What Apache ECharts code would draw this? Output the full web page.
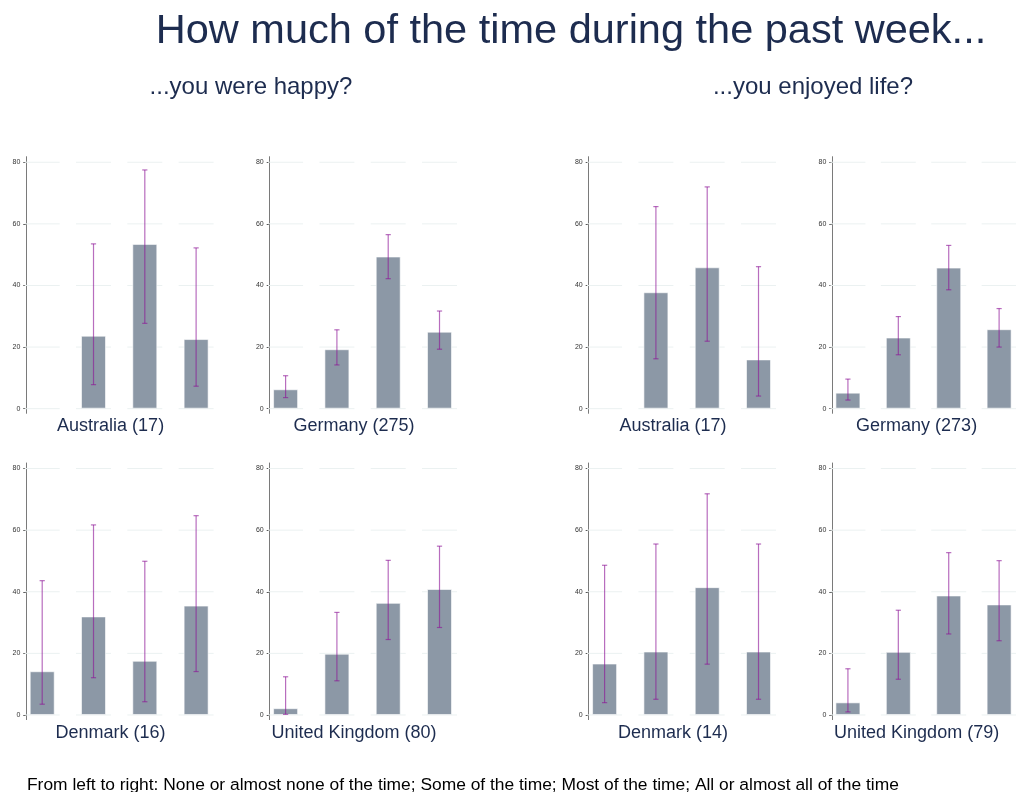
<!DOCTYPE html>
<html>
<head>
<meta charset="utf-8">
<script src="https://cdn.jsdelivr.net/npm/echarts@6/dist/echarts.min.js"></script>
<style>
html,body{margin:0;padding:0;background:#fff;}
#chart{width:1016px;height:792px;}
</style>
</head>
<body>
<div id="chart"></div>
<script>
// ---- data ----
const categories = ['None or almost none of the time', 'Some of the time', 'Most of the time', 'All or almost all of the time'];
const yTicks = [0, 20, 40, 60, 80];

const mainTitle = 'How much of the time during the past week...';
const subTitles = ['...you were happy?', '...you enjoyed life?'];
const footNote = 'From left to right: None or almost none of the time; Some of the time; Most of the time; All or almost all of the time';

const panelLabels = ['Australia (17)', 'Germany (275)', 'Australia (17)', 'Germany (273)',
                     'Denmark (16)', 'United Kingdom (80)', 'Denmark (14)', 'United Kingdom (79)'];

// happy
const happyAustraliaPct  = [null, 23.7, 53.5, 22.6];
const happyAustraliaLow  = [null, 7.8, 27.7, 7.3];
const happyAustraliaHigh = [null, 53.5, 77.5, 52.2];

const happyGermanyPct  = [6.3, 19.3, 49.4, 25.0];
const happyGermanyLow  = [3.6, 14.2, 42.2, 19.3];
const happyGermanyHigh = [10.7, 25.6, 56.5, 31.7];

const happyDenmarkPct  = [14.2, 32.0, 17.6, 35.5];
const happyDenmarkLow  = [3.5, 12.1, 4.3, 14.1];
const happyDenmarkHigh = [43.6, 61.7, 49.9, 64.7];

const happyUKPct  = [2.2, 19.9, 36.4, 40.9];
const happyUKLow  = [0.2, 11.1, 24.5, 28.4];
const happyUKHigh = [12.4, 33.3, 50.2, 54.8];

// enjoyed life
const enjoyAustraliaPct  = [null, 37.8, 45.9, 16.0];
const enjoyAustraliaLow  = [null, 16.2, 21.9, 4.1];
const enjoyAustraliaHigh = [null, 65.6, 72.0, 46.1];

const enjoyGermanyPct  = [5.2, 23.1, 45.8, 25.8];
const enjoyGermanyLow  = [2.8, 17.5, 38.6, 20.0];
const enjoyGermanyHigh = [9.6, 29.9, 53.0, 32.5];

const enjoyDenmarkPct  = [16.7, 20.6, 41.5, 20.6];
const enjoyDenmarkLow  = [4.0, 5.1, 16.5, 5.1];
const enjoyDenmarkHigh = [48.6, 55.5, 71.8, 55.5];

const enjoyUKPct  = [4.1, 20.5, 38.8, 35.9];
const enjoyUKLow  = [1.0, 11.6, 26.3, 24.1];
const enjoyUKHigh = [15.0, 34.0, 52.7, 50.1];

// ---- layout ----
const colLefts = [26.3, 269.7, 588.7, 832.3];
const rowTops = [156.7, 463.0];
const plotW = 187, plotH = 256.6;

const panelData = [
  [happyAustraliaPct, happyAustraliaLow, happyAustraliaHigh],
  [happyGermanyPct, happyGermanyLow, happyGermanyHigh],
  [enjoyAustraliaPct, enjoyAustraliaLow, enjoyAustraliaHigh],
  [enjoyGermanyPct, enjoyGermanyLow, enjoyGermanyHigh],
  [happyDenmarkPct, happyDenmarkLow, happyDenmarkHigh],
  [happyUKPct, happyUKLow, happyUKHigh],
  [enjoyDenmarkPct, enjoyDenmarkLow, enjoyDenmarkHigh],
  [enjoyUKPct, enjoyUKLow, enjoyUKHigh]
];

const FONT = '"Liberation Sans", Arial, Helvetica, sans-serif';
const NAVY = '#1d2c4f';

const grids = [], xAxes = [], yAxes = [], series = [], graphics = [];

panelData.forEach((pd, i) => {
  const col = i % 4, row = Math.floor(i / 4);
  const left = colLefts[col], top = rowTops[row];
  grids.push({left: left, top: top, width: plotW, height: plotH, containLabel: false});
  xAxes.push({type: 'value', gridIndex: i, min: -0.31, max: 3.335, show: false});
  yAxes.push({
    type: 'value', gridIndex: i, min: -1.5, max: 81.8, position: 'left',
    axisLine: {show: true, onZero: false, lineStyle: {color: '#7a7a7a', width: 1}},
    axisTick: {show: true, length: 3, customValues: yTicks, lineStyle: {color: '#555', width: 1}},
    axisLabel: {show: true, customValues: yTicks, fontSize: 7, color: '#333', margin: 6, fontFamily: FONT},
    splitLine: {show: false}
  });
  const [pct, low, high] = pd;
  // segmented grid lines
  series.push({
    type: 'custom', xAxisIndex: i, yAxisIndex: i, z: 1, silent: true,
    data: categories.map((c, k) => [k, 0]),
    renderItem: function (params, api) {
      const k = api.value(0);
      const children = yTicks.map(t => {
        const p = api.coord([k, t]);
        return {type: 'line', shape: {x1: p[0] - 17.5, y1: p[1], x2: p[0] + 17.5, y2: p[1]},
                style: {stroke: '#ebf1f1', lineWidth: 1}};
      });
      return {type: 'group', children: children};
    }
  });
  series.push({
    type: 'bar', xAxisIndex: i, yAxisIndex: i, z: 2, barWidth: 25, silent: true,
    data: pct.map((v, k) => [k, v]),
    itemStyle: {color: '#8c98a6', borderColor: 'rgba(255,255,255,0.6)', borderWidth: 1}
  });
  series.push({
    type: 'custom', xAxisIndex: i, yAxisIndex: i, z: 3, silent: true,
    data: pct.map((v, k) => [k, low[k], high[k]]).filter(d => d[1] != null),
    renderItem: function (params, api) {
      const k = api.value(0);
      const lo = api.coord([k, api.value(1)]);
      const hi = api.coord([k, api.value(2)]);
      const st = {stroke: 'rgba(140,20,150,0.62)', lineWidth: 1.2};
      const cw = 2.6;
      return {type: 'group', children: [
        {type: 'line', shape: {x1: lo[0], y1: lo[1], x2: hi[0], y2: hi[1]}, style: st},
        {type: 'line', shape: {x1: lo[0] - cw, y1: lo[1], x2: lo[0] + cw, y2: lo[1]}, style: st},
        {type: 'line', shape: {x1: hi[0] - cw, y1: hi[1], x2: hi[0] + cw, y2: hi[1]}, style: st}
      ]};
    }
  });
  graphics.push({
    type: 'text', x: left + 84.3, y: row === 0 ? 426.5 : 733.5,
    style: {text: panelLabels[i], font: '18px ' + FONT, fill: NAVY,
            align: 'center', verticalAlign: 'middle', textAlign: 'center', textVerticalAlign: 'middle'}
  });
});

graphics.push({
  type: 'text', x: 571, y: 32,
  style: {text: mainTitle, font: '41.5px ' + FONT, fill: NAVY,
          align: 'center', verticalAlign: 'middle', textAlign: 'center', textVerticalAlign: 'middle'}
});
graphics.push({
  type: 'text', x: 251, y: 87,
  style: {text: subTitles[0], font: '24px ' + FONT, fill: NAVY,
          align: 'center', verticalAlign: 'middle', textAlign: 'center', textVerticalAlign: 'middle'}
});
graphics.push({
  type: 'text', x: 813, y: 87,
  style: {text: subTitles[1], font: '24px ' + FONT, fill: NAVY,
          align: 'center', verticalAlign: 'middle', textAlign: 'center', textVerticalAlign: 'middle'}
});
graphics.push({
  type: 'text', x: 27, y: 785.5,
  style: {text: footNote, font: '17.4px ' + FONT, fill: '#000',
          align: 'left', verticalAlign: 'middle', textAlign: 'left', textVerticalAlign: 'middle'}
});

const chart = echarts.init(document.getElementById('chart'), null, {renderer: 'canvas'});
chart.setOption({
  backgroundColor: '#ffffff',
  animation: false,
  grid: grids,
  xAxis: xAxes,
  yAxis: yAxes,
  series: series,
  graphic: graphics
});
</script>
</body>
</html>
